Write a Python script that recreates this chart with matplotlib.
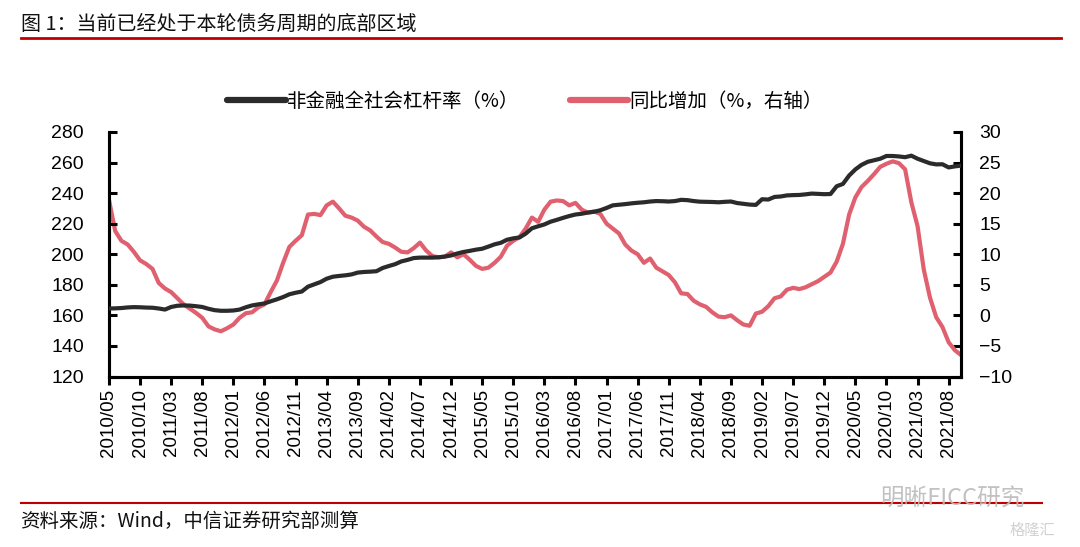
import matplotlib.pyplot as plt
import matplotlib.lines as mlines
import pandas as pd

# Monthly categories 2010/05 - 2021/10
months = pd.period_range("2010-05", periods=138, freq="M").strftime("%Y/%m").tolist()

# 非金融全社会杠杆率 (%), left axis
leverage = [
    164.5, 164.6, 164.8, 165.2, 165.4, 165.3, 165.1, 165.0, 164.5, 163.8,
    165.5, 166.3, 166.5, 166.4, 166.0, 165.5, 164.3, 163.4, 163.0, 163.0,
    163.2, 163.8, 165.3, 166.5, 167.2, 167.8, 169.2, 170.5, 172.0, 173.8,
    174.8, 175.6, 178.8, 180.3, 181.8, 184.0, 185.3, 185.8, 186.2, 186.8,
    188.0, 188.4, 188.6, 188.9, 191.0, 192.3, 193.5, 195.3, 196.3, 197.5,
    197.8, 197.8, 197.8, 198.0, 198.5, 199.2, 200.5, 201.5, 202.2, 203.0,
    203.6, 205.0, 206.5, 207.5, 209.5, 210.4, 211.0, 213.5, 217.0, 218.3,
    219.5, 221.3, 222.5, 223.8, 225.0, 226.0, 226.5, 227.3, 227.8, 228.8,
    230.3, 232.0, 232.4, 232.8, 233.3, 233.7, 234.0, 234.5, 234.8, 234.7,
    234.5, 234.8, 235.6, 235.4, 234.8, 234.4, 234.3, 234.2, 234.0, 234.3,
    234.5, 233.5, 233.0, 232.5, 232.3, 236.0, 235.8, 237.5, 237.8, 238.5,
    238.7, 238.8, 239.2, 239.7, 239.5, 239.3, 239.4, 244.5, 246.0, 251.5,
    255.5, 258.5, 260.5, 261.5, 262.5, 264.3, 264.3, 264.0, 263.5, 264.5,
    262.5, 261.0, 259.5, 258.8, 258.9, 256.8, 257.5, 258.0,
]

# 同比增加 (%), right axis
growth = [
    18.9, 13.8, 12.2, 11.6, 10.4, 9.0, 8.4, 7.6, 5.3, 4.4,
    3.8, 2.8, 1.8, 1.1, 0.4, -0.4, -1.8, -2.3, -2.6, -2.1,
    -1.5, -0.4, 0.35, 0.5, 1.3, 1.8, 3.8, 5.7, 8.6, 11.2,
    12.2, 13.1, 16.5, 16.6, 16.4, 18.0, 18.6, 17.5, 16.3, 16.0,
    15.5, 14.5, 13.9, 12.9, 12.0, 11.7, 11.1, 10.4, 10.3, 11.0,
    11.9, 10.6, 9.7, 9.5, 9.6, 10.3, 9.5, 10.0, 9.1, 8.1,
    7.6, 7.8, 8.6, 9.6, 11.4, 12.2, 12.8, 14.2, 16.0, 15.3,
    17.3, 18.6, 18.8, 18.7, 18.0, 18.4, 17.3, 16.8, 17.0, 16.6,
    15.0, 14.2, 13.4, 11.6, 10.6, 10.0, 8.6, 9.3, 7.8, 7.2,
    6.6, 5.4, 3.6, 3.5, 2.4, 1.8, 1.4, 0.5, -0.2, -0.3,
    0.0, -0.8, -1.5, -1.7, 0.3, 0.6, 1.5, 2.8, 3.1, 4.2,
    4.5, 4.3, 4.6, 5.1, 5.6, 6.3, 7.0, 8.8, 11.7, 16.5,
    19.3, 21.0, 22.0, 23.1, 24.3, 24.8, 25.2, 24.9, 23.9, 18.5,
    14.6, 7.5, 2.9, -0.3, -1.9, -4.4, -5.7, -6.5,
]

label_left = "非金融全社会杠杆率（%）"
label_right = "同比增加（%，右轴）"
title = "图 1：当前已经处于本轮债务周期的底部区域"
source = "资料来源：Wind，中信证券研究部测算"

cjk = ["Noto Sans CJK SC", "DejaVu Sans"]
num_font = "Liberation Sans"
black = "#2b2b2b"
red = "#E0606F"
dark_red = "#C00000"

fig = plt.figure(figsize=(10.8, 5.47), dpi=100)
ax = fig.add_axes([0.1009, 0.3117, 0.789, 0.447])
ax2 = ax.twinx()

x = list(range(len(months)))
ax.plot(x, leverage, color=black, lw=3.0, solid_capstyle="round", zorder=3)
ax2.plot(x, growth, color=red, lw=3.0, solid_capstyle="round", zorder=2)
ax.set_zorder(ax2.get_zorder() + 1)
ax.patch.set_visible(False)

ax.set_xlim(0, len(months) - 1)
ax.set_ylim(120, 280)
ax2.set_ylim(-10, 30)
ax.set_yticks(range(120, 281, 20))
ax2.set_yticks(range(-10, 31, 5))
ax.set_xticks(x[::5])
ax.set_xticklabels(months[::5], rotation=90, fontsize=13.5, family=num_font)

for a in (ax, ax2):
    a.spines["top"].set_visible(False)
    for s in ("left", "right", "bottom"):
        a.spines[s].set_linewidth(2.2)
    a.tick_params(axis="y", direction="in", length=6, width=2.2, labelsize=14)
    for lab in a.get_yticklabels():
        lab.set_family(num_font)
ax.tick_params(axis="x", direction="out", length=6, width=2.2, pad=3)
ax.tick_params(axis="y", pad=18)
ax2.tick_params(axis="y", pad=13)
ax2.tick_params(axis="x", bottom=False, labelbottom=False)

# Legend
h1 = mlines.Line2D([], [], color=black, lw=4.5, solid_capstyle="round")
h2 = mlines.Line2D([], [], color=red, lw=4.5, solid_capstyle="round")
fig.legend([h1, h2], [label_left, label_right], loc="center", bbox_to_anchor=(0.486, 0.815),
           ncol=2, frameon=False, prop={"family": cjk, "size": 14},
           handlelength=3.0, handletextpad=0.05, columnspacing=2.6)

# Title, source and rules
fig.text(0.019, 0.955, title, family=cjk, fontsize=14.4, va="center", ha="left",
         color="#111111", fontweight="medium")
fig.add_artist(mlines.Line2D([0.019, 0.982], [0.931, 0.931], color=dark_red, lw=2.0))
fig.add_artist(mlines.Line2D([0.019, 0.965], [0.080, 0.080], color=dark_red, lw=1.5))
fig.text(0.019, 0.046, source, family=cjk, fontsize=14, va="center", ha="left", color="#111111")

# Watermarks
fig.text(0.815, 0.088, "明晰FICC研究", family=cjk, fontsize=17, va="center", ha="left",
         color="#bbbbbb", alpha=0.9)
fig.text(0.935, 0.030, "格隆汇", family=cjk, fontsize=11, va="center", ha="left",
         color="#cccccc", alpha=0.9)

fig.savefig("out.png", dpi=100)
